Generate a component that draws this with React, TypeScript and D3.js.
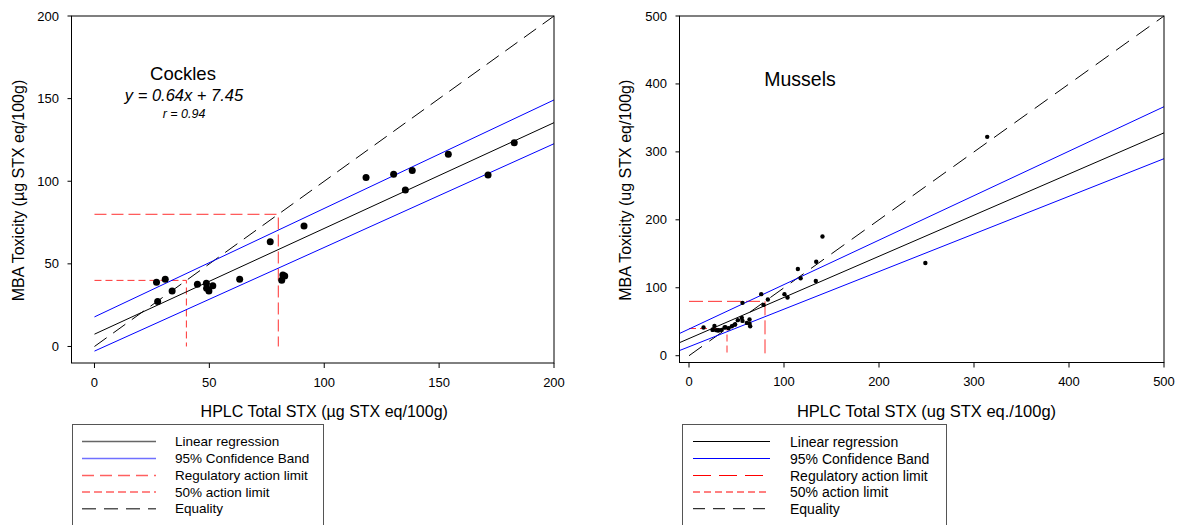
import React from 'react';
import * as d3 from 'd3';

// ---------- Data ----------
const cocklesX = [27, 30.8, 27.5, 33.8, 44.8, 48.7, 48.8, 49.8, 51.5, 63.2, 76.5, 91.2, 81.5, 82, 82.8, 118.2, 130.2, 135.3, 138.3, 154, 171.3, 182.7];
const cocklesY = [38.9, 40.7, 27.2, 33.6, 37.7, 38.3, 35.2, 33.6, 36.7, 40.7, 63.4, 72.9, 40.1, 43.3, 42.7, 102.3, 104.3, 94.7, 106.5, 116.4, 103.7, 123.3];

const musselsX = [15.3, 24.8, 25.1, 26.8, 28.6, 30.6, 31.4, 34.4, 37.4, 38.3, 41.6, 45.1, 48, 48.6, 51.4, 55.6, 56.3, 56.3, 60.9, 63.7, 63.7, 64.4, 76, 78.4, 83, 100.5, 103.7, 114.6, 117.5, 133.5, 133.9, 140.5, 248.8, 313.9];
const musselsY = [41.5, 38, 38.6, 43.9, 37.6, 37, 37.6, 38, 41.5, 41.9, 40.5, 43.4, 45.8, 45.9, 52.3, 55.7, 51.2, 77.8, 48.3, 53.3, 47.2, 43.4, 90.6, 74.8, 82.8, 90.6, 85.7, 127.7, 114, 110, 138.4, 175.4, 136.5, 322.1];

// regression / confidence band end values [x0, y0, x1, y1]
const cocklesRegression = [0, 7.45, 200, 135.45];
const cocklesUpper = [0, 17.9, 200, 149.2];
const cocklesLower = [0, -2.8, 200, 122.7];
const musselsRegression = [-10, 19.2, 500, 328];
const musselsUpper = [-10, 32.7, 500, 366.5];
const musselsLower = [-10, 7.6, 500, 290];

const regulatoryLimit = 80;
const halfLimit = 40;

const cocklesTicks = [0, 50, 100, 150, 200];
const musselsTicks = [0, 100, 200, 300, 400, 500];

const legendLabels = ['Linear regression', '95% Confidence Band', 'Regulatory action limit', '50% action limit', 'Equality'];

const FONT = "Arial, 'Liberation Sans', Helvetica, sans-serif";

type Seg = number[];

interface ChartProps {
  left: number; right: number; top: number; bottom: number;
  xDomain: [number, number]; yDomain: [number, number];
  ticks: number[];
  xs: number[]; ys: number[];
  reg: Seg; up: Seg; lo: Seg;
  eqMax: number;
  r: number;
  xTitle: string; yTitle: string; yTitleX: number;
  xTitleSize: number;
  dashes: { reg: string; half: string; eq: string };
  children?: React.ReactNode;
}

function Chart(p: ChartProps) {
  const x = d3.scaleLinear().domain(p.xDomain).range([p.left, p.right]);
  const y = d3.scaleLinear().domain(p.yDomain).range([p.bottom, p.top]);
  const line = d3.line<[number, number]>().x(d => x(d[0])).y(d => y(d[1]));
  const seg = (s: Seg) => line([[s[0], s[1]], [s[2], s[3]]]) as string;
  const red = '#ff3030';
  return (
    <g>
      {/* equality */}
      <path d={seg([0, 0, p.eqMax, p.eqMax])} stroke="#000" strokeWidth={1} fill="none" strokeDasharray={p.dashes.eq} />
      {/* regulatory */}
      <path d={line([[0, regulatoryLimit], [regulatoryLimit, regulatoryLimit], [regulatoryLimit, 0]]) as string} stroke={red} strokeWidth={1} fill="none" strokeDasharray={p.dashes.reg} />
      <path d={line([[0, halfLimit], [halfLimit, halfLimit], [halfLimit, 0]]) as string} stroke={red} strokeWidth={1} fill="none" strokeDasharray={p.dashes.half} />
      {/* CI & regression */}
      <path d={seg(p.up)} stroke="#0000ff" strokeWidth={1} fill="none" />
      <path d={seg(p.lo)} stroke="#0000ff" strokeWidth={1} fill="none" />
      <path d={seg(p.reg)} stroke="#000" strokeWidth={1} fill="none" />
      {/* points */}
      {p.xs.map((v, i) => (
        <circle key={i} cx={x(v)} cy={y(p.ys[i])} r={p.r} fill="#000" />
      ))}
      {/* frame */}
      <rect x={p.left} y={p.top} width={p.right - p.left} height={p.bottom - p.top} fill="none" stroke="#000" strokeWidth={1} />
      {/* ticks */}
      {p.ticks.map(t => (
        <g key={'x' + t}>
          <line x1={x(t)} x2={x(t)} y1={p.bottom} y2={p.bottom + 5} stroke="#000" />
          <text x={x(t)} y={p.bottom + 19} textAnchor="middle" dominantBaseline="central" fontSize={13} fontFamily={FONT}>{t}</text>
        </g>
      ))}
      {p.ticks.map(t => (
        <g key={'y' + t}>
          <line x1={p.left - 4} x2={p.left} y1={y(t)} y2={y(t)} stroke="#000" />
          <text x={p.left - 12.5} y={y(t)} textAnchor="end" dominantBaseline="central" fontSize={13} fontFamily={FONT}>{t}</text>
        </g>
      ))}
      <text x={(x(p.xDomain[0] + 10) + p.right) / 2} y={411} textAnchor="middle" dominantBaseline="central" fontSize={p.xTitleSize} fontFamily={FONT}>{p.xTitle}</text>
      <text transform={`translate(${p.yTitleX},${(p.top + p.bottom) / 2 + 1}) rotate(-90)`} textAnchor="middle" dominantBaseline="central" fontSize={16} fontFamily={FONT}>{p.yTitle}</text>
      {p.children}
    </g>
  );
}

interface LegendProps {
  x0: number; x1: number; lx0: number; lx1: number; tx: number; fs: number;
  colors: string[]; dashes: (string | undefined)[]; sw: number;
}

function Legend(p: LegendProps) {
  const rows = [441.5, 458.5, 475.5, 492, 508.7];
  return (
    <g>
      <rect x={p.x0} y={424.5} width={p.x1 - p.x0} height={120} fill="none" stroke="#555" strokeWidth={1} />
      {legendLabels.map((lab, i) => (
        <g key={lab}>
          <line x1={p.lx0} x2={p.lx1} y1={rows[i]} y2={rows[i]} stroke={p.colors[i]} strokeWidth={p.sw} strokeDasharray={p.dashes[i]} />
          <text x={p.tx} y={rows[i]} dominantBaseline="central" fontSize={p.fs} fontFamily={FONT}>{lab}</text>
        </g>
      ))}
    </g>
  );
}

export default function App() {
  return (
    <svg width={1177} height={525} style={{ position: 'absolute', left: 0, top: 0, background: '#fff' }}>
      <Chart
        left={71.5} right={554} top={16} bottom={363}
        xDomain={[-10, 200]} yDomain={[-10, 200]}
        ticks={cocklesTicks}
        xs={cocklesX} ys={cocklesY}
        reg={cocklesRegression} up={cocklesUpper} lo={cocklesLower}
        eqMax={200} r={3.5}
        xTitle="HPLC Total STX (µg STX eq/100g)"
        yTitle="MBA Toxicity (µg STX eq/100g)"
        yTitleX={18} xTitleSize={16}
        dashes={{ reg: '12,5', half: '7,4', eq: '15,8' }}
      >
        <text x={183} y={73} textAnchor="middle" dominantBaseline="central" fontSize={18.5} fontFamily={FONT}>Cockles</text>
        <text x={184} y={95} textAnchor="middle" dominantBaseline="central" fontSize={16.5} fontStyle="italic" fontFamily={FONT}>y = 0.64x + 7.45</text>
        <text x={184} y={114} textAnchor="middle" dominantBaseline="central" fontSize={12.5} fontStyle="italic" fontFamily={FONT}>r = 0.94</text>
      </Chart>
      <Chart
        left={679.5} right={1164} top={16} bottom={362.5}
        xDomain={[-10, 500]} yDomain={[-10, 500]}
        ticks={musselsTicks}
        xs={musselsX} ys={musselsY}
        reg={musselsRegression} up={musselsUpper} lo={musselsLower}
        eqMax={500} r={2.2}
        xTitle="HPLC Total STX (ug STX eq./100g)"
        yTitle="MBA Toxicity (ug STX eq/100g)"
        yTitleX={625} xTitleSize={16.5}
        dashes={{ reg: '14,5', half: '7,4', eq: '16,9' }}
      >
        <text x={800} y={79} textAnchor="middle" dominantBaseline="central" fontSize={19.5} fontFamily={FONT}>Mussels</text>
      </Chart>
      <Legend x0={72.5} x1={323.5} lx0={82} lx1={156} tx={175} fs={13.5}
        colors={['#666', '#7070ff', '#ff6060', '#ff6060', '#555']}
        dashes={[undefined, undefined, '12,6', '8,4', '14,8']} sw={1.5} />
      <Legend x0={682.5} x1={946.5} lx0={693} lx1={770} tx={790} fs={14}
        colors={['#000', '#0000ff', '#ff0000', '#ff0000', '#000']}
        dashes={[undefined, undefined, '18,8', '7,4', '12,8']} sw={1} />
    </svg>
  );
}
